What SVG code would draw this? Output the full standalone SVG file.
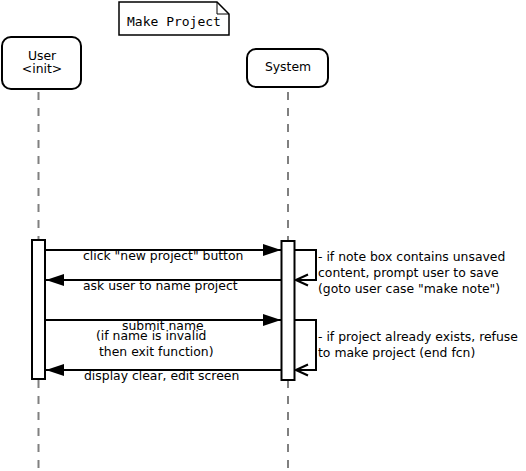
<svg xmlns="http://www.w3.org/2000/svg" width="526" height="471" viewBox="0 0 526 471">
<style>
text{font-family:"DejaVu Sans","Liberation Sans",sans-serif;font-size:12.4px;fill:#000}
.mono{font-family:"DejaVu Sans Mono","Liberation Mono",monospace;font-size:13px}
.box{fill:#fff;stroke:#000;stroke-width:2}
.life{stroke:#808080;stroke-width:2;stroke-dasharray:8 8;fill:none}
.msg{stroke:#000;stroke-width:2;fill:none}
.c{text-anchor:middle}
</style>
<defs>
<marker id="fill" viewBox="0 0 18 12" refX="18" refY="6" markerWidth="18" markerHeight="12" markerUnits="userSpaceOnUse" orient="auto">
<path d="M0,0 L18,6 L0,12 Z" fill="#000"/>
</marker>
<marker id="open" viewBox="0 0 14 14" refX="13" refY="7" markerWidth="14" markerHeight="14" markerUnits="userSpaceOnUse" orient="auto">
<path d="M1,1.5 L13,7 L1,12.5" fill="none" stroke="#000" stroke-width="2"/>
</marker>
</defs>
<g id="note">
<path d="M119,2 H217 L229,14 V35 H119 Z" fill="#fff" stroke="#000" stroke-width="1.5"/>
<path d="M217,2 V14 H229" fill="none" stroke="#000" stroke-width="1"/>
<text class="mono" x="127" y="26">Make Project</text>
</g>
<g id="lifelines">
<line class="life" x1="38.5" y1="92" x2="38.5" y2="471"/>
<line class="life" x1="288" y1="92" x2="288" y2="471"/>
</g>
<g id="user">
<rect class="box" x="2" y="37" width="79" height="52" rx="9"/>
<text class="c" x="42" y="60">User</text>
<text class="c" x="42" y="72.5">&lt;init&gt;</text>
</g>
<g id="system">
<rect class="box" x="247" y="49" width="81" height="38" rx="9"/>
<text class="c" x="288" y="71">System</text>
</g>
<g id="activation-user">
<rect class="box" x="32" y="240" width="13" height="139"/>
</g>
<g id="activation-system">
<rect class="box" x="281.5" y="241" width="13" height="139"/>
</g>
<g id="connectors">
<line class="msg" x1="46" y1="250" x2="281" y2="250" marker-end="url(#fill)"/>
<line class="msg" x1="281" y1="280" x2="46" y2="280" marker-end="url(#fill)"/>
<line class="msg" x1="46" y1="320" x2="281" y2="320" marker-end="url(#fill)"/>
<line class="msg" x1="281" y1="370" x2="46" y2="370" marker-end="url(#fill)"/>
<polyline class="msg" points="295,250 316,250 316,280 296,280" marker-end="url(#open)"/>
<polyline class="msg" points="295,320 316,320 316,370 296,370" marker-end="url(#open)"/>
</g>
<g id="labels">
<text x="83" y="260">click "new project" button</text>
<text x="83" y="290">ask user to name project</text>
<text x="122" y="330">submit name</text>
<text x="96" y="340">(if name is invalid</text>
<text x="99" y="356">then exit function)</text>
<text x="84" y="380">display clear, edit screen</text>
<text x="318" y="261">- if note box contains unsaved</text>
<text x="318" y="277">content, prompt user to save</text>
<text x="318" y="293">(goto user case "make note")</text>
<text x="318" y="341">- if project already exists, refuse</text>
<text x="318" y="357">to make project (end fcn)</text>
</g>
</svg>
